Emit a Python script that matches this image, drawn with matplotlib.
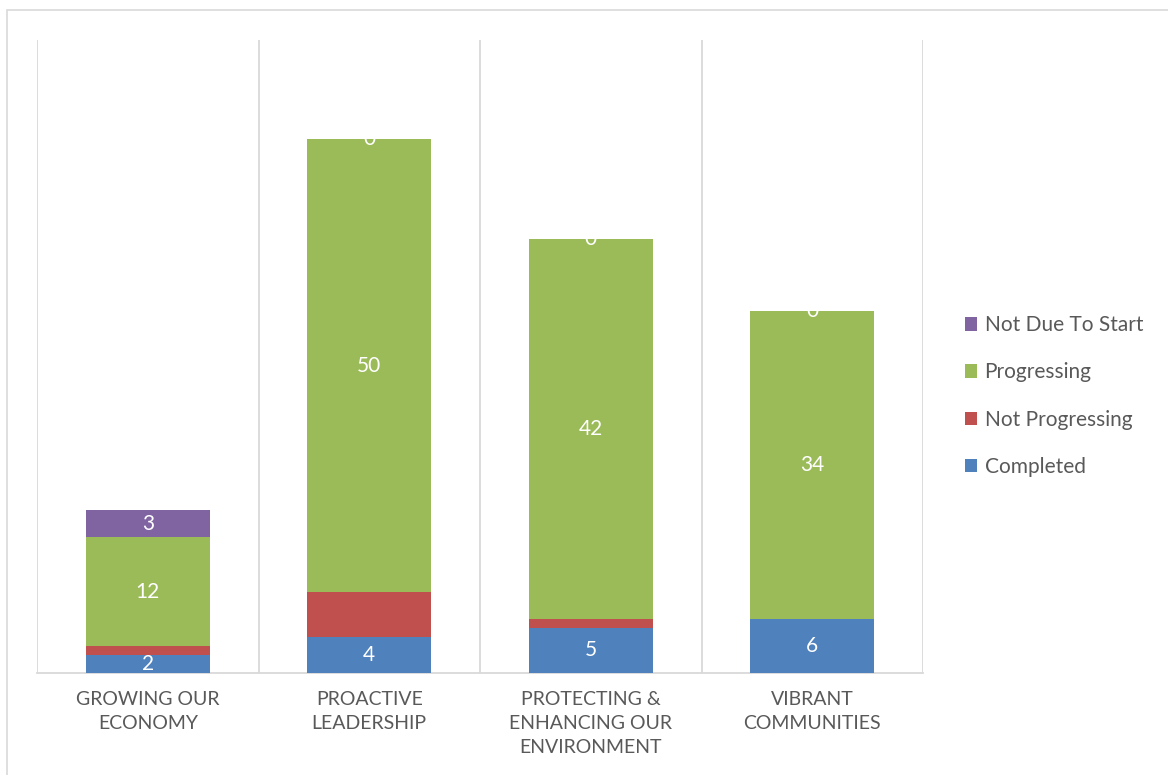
import matplotlib.pyplot as plt
from matplotlib.patches import Rectangle

# data
categories = ['GROWING OUR\nECONOMY', 'PROACTIVE\nLEADERSHIP',
              'PROTECTING &\nENHANCING OUR\nENVIRONMENT', 'VIBRANT\nCOMMUNITIES']
completed = [2, 4, 5, 6]
not_progressing = [1, 5, 1, 0]
progressing = [12, 50, 42, 34]
not_due = [3, 0, 0, 0]

series = [
    ('Completed', completed, '#4F81BD', True),
    ('Not Progressing', not_progressing, '#C0504D', False),
    ('Progressing', progressing, '#9BBB59', True),
    ('Not Due To Start', not_due, '#8064A2', True),
]

plt.rcParams['font.family'] = ['Lato', 'DejaVu Sans']

fig = plt.figure(figsize=(11.68, 7.75), dpi=100)
ax = fig.add_axes([37 / 1168, 1 - 673 / 775, (923 - 37) / 1168, (673 - 40) / 775])

x = list(range(len(categories)))
bottom = [0] * len(categories)
handles = []
for name, vals, color, show_lbl in series:
    bars = ax.bar(x, vals, 0.56, bottom=bottom, color=color, label=name, zorder=3)
    if show_lbl:
        ax.bar_label(bars, labels=[str(v) for v in vals], label_type='center',
                     color='white', fontsize=15)
    bottom = [b + v for b, v in zip(bottom, vals)]
    handles.append(bars)

ax.set_xlim(-0.5, len(categories) - 0.5)
ax.set_ylim(0, 70)

# vertical separators between categories
for xv in [i - 0.5 for i in range(len(categories) + 1)]:
    ax.axvline(xv, color='#D9D9D9', lw=1.3, zorder=1)

for s in ['top', 'right', 'left']:
    ax.spines[s].set_visible(False)
ax.spines['bottom'].set_color('#D9D9D9')
ax.spines['bottom'].set_linewidth(1.3)
ax.set_yticks([])
ax.set_xticks(x)
ax.set_xticklabels(categories, color='#595959', fontsize=14,
                   linespacing=1.5)
ax.tick_params(axis='x', length=0, pad=13)

leg = fig.legend(handles[::-1], [s[0] for s in series][::-1],
                 loc='center left', bbox_to_anchor=(946 / 1168, 1 - 396 / 775),
                 frameon=False, fontsize=15, labelcolor='#595959',
                 handlelength=0.6, handleheight=0.6, handletextpad=0.35,
                 labelspacing=1.3)

# light outer border of the chart area
fig.patches.append(Rectangle((7 / 1168, -0.05), 1.1, 1 - 10 / 775 + 0.05,
                             transform=fig.transFigure, fill=False,
                             edgecolor='#D9D9D9', lw=1.2))

fig.savefig('out.png', dpi=100)
